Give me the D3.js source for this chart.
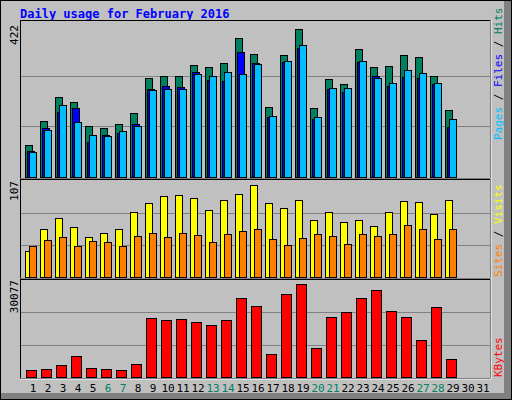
<!DOCTYPE html>
<html>
<head>
<script src="https://d3js.org/d3.v7.min.js"></script>
<style>body{margin:0;background:#fff}</style>
</head>
<body>
<svg id="chart" width="512" height="400"></svg>
<script>
var days = d3.range(1, 32);
var weekend = [6, 7, 13, 14, 20, 21, 27, 28];
var hits  = [89,156,222,208,142,136,147,178,275,281,281,311,305,316,386,341,194,339,411,191,272,258,354,305,308,339,333,281,186];
var files = [72,136,180,191,97,117,122,147,244,253,250,292,269,266,347,316,167,319,358,161,244,236,319,280,253,278,275,258,139];
var pages = [69,130,200,153,117,114,128,142,241,244,244,286,280,291,286,314,169,322,366,167,247,247,322,275,261,297,289,261,161];
var visits = [29,54,66,56,45,49,54,72,82,90,91,88,75,86,92,103,83,77,86,64,72,61,63,57,72,85,84,70,86];
var sites  = [35,41,45,35,40,39,35,46,49,45,49,47,39,48,51,54,42,36,44,48,46,37,48,46,48,58,54,42,53];
var kbytes = [2289,2601,3850,6660,2912,2601,2289,4162,18211,17587,17899,16963,16027,17587,24456,21959,7284,25705,28828,8948,18523,20084,24456,26954,20396,18523,11343,21647,5723];

var svg = d3.select("#chart");
svg.append("rect").attr("x", 0).attr("y", 0).attr("width", 512).attr("height", 400).attr("fill", "#c0c0c0");
svg.append("rect").attr("x", 0.5).attr("y", 0.5).attr("width", 511).attr("height", 399).attr("fill", "none").attr("stroke", "#000");
svg.append("rect").attr("x", 504).attr("y", 1).attr("width", 7).attr("height", 398).attr("fill", "#808080");
svg.append("rect").attr("x", 1).attr("y", 393).attr("width", 510).attr("height", 6).attr("fill", "#808080");

svg.append("text").attr("x", 20).attr("y", 18)
    .style("font-family", "DejaVu Sans Mono").style("font-weight", "bold")
    .style("font-size", "12px").style("fill", "#0000ff")
    .text("Daily usage for February 2016");

var x = d3.scaleLinear().domain([1, 31]).range([25, 475]);

var panels = [
    {top: 25, bottom: 177, max: 422, y0: 20},
    {top: 181, bottom: 277, max: 107, y0: 179},
    {top: 280, bottom: 377, max: 30077, y0: 279}
];

panels.forEach(function (p) {
    svg.append("rect").attr("x", 20.5).attr("y", p.y0 + 0.5)
        .attr("width", 470).attr("height", p.bottom - p.y0 + 1)
        .attr("fill", "#c0c0c0").attr("stroke", "#000");
    svg.append("line").attr("x1", 491).attr("x2", 491).attr("y1", p.y0).attr("y2", p.bottom + 2).attr("stroke", "#fff");
    svg.append("line").attr("x1", 20).attr("x2", 491).attr("y1", p.bottom + 2).attr("y2", p.bottom + 2).attr("stroke", "#fff");
    p.y = d3.scaleLinear().domain([0, p.max]).range([p.bottom, p.top]);
    [1 / 3, 2 / 3].forEach(function (f) {
        var gy = Math.round(p.y(p.max * f)) + 0.5;
        svg.append("line").attr("x1", 21).attr("x2", 490).attr("y1", gy).attr("y2", gy).attr("stroke", "#808080");
    });
    svg.append("text").attr("transform", "translate(18," + p.top + ") rotate(-90)")
        .attr("text-anchor", "end")
        .style("font-family", "DejaVu Sans Mono").style("font-size", "11px").style("fill", "#000")
        .text(p.max);
});

function bars(data, p, dx, w, color) {
    svg.append("g").selectAll("rect").data(data).enter().append("rect")
        .attr("x", function (d, i) { return Math.round(x(i + 1)) + dx + 0.5; })
        .attr("y", function (d) { return Math.round(p.y(d)) + 0.5; })
        .attr("width", w)
        .attr("height", function (d) { return p.bottom - Math.round(p.y(d)); })
        .attr("fill", color).attr("stroke", "#000");
}
bars(hits, panels[0], 0, 7, "#008060");
bars(files, panels[0], 2, 7, "#0000ff");
bars(pages, panels[0], 4, 7, "#00bfff");
bars(visits, panels[1], 0, 7, "#ffff00");
bars(sites, panels[1], 4, 7, "#ff8000");
bars(kbytes, panels[2], 1, 10, "#ff0000");

svg.append("g").selectAll("text").data(days).enter().append("text")
    .attr("x", function (d) { return x(d) + 8; })
    .attr("y", 392)
    .attr("text-anchor", "middle")
    .style("font-family", "DejaVu Sans Mono").style("font-size", "11px")
    .style("fill", function (d) { return weekend.indexOf(d) >= 0 ? "#008060" : "#000"; })
    .text(function (d) { return d; });

function sideLabel(parts, yEnd) {
    var t = svg.append("text").attr("transform", "translate(502," + yEnd + ") rotate(-90)")
        .style("font-family", "DejaVu Sans Mono").style("font-size", "11px");
    parts.forEach(function (s) {
        t.append("tspan").style("fill", s[1]).text(s[0]);
    });
}
sideLabel([["Pages", "#00bfff"], [" / ", "#000"], ["Files", "#0000ff"], [" / ", "#000"], ["Hits", "#008060"]], 140);
sideLabel([["Sites", "#ff8000"], [" / ", "#000"], ["Visits", "#ffff00"]], 277);
sideLabel([["KBytes", "#ff0000"]], 377);
</script>
</body>
</html>
